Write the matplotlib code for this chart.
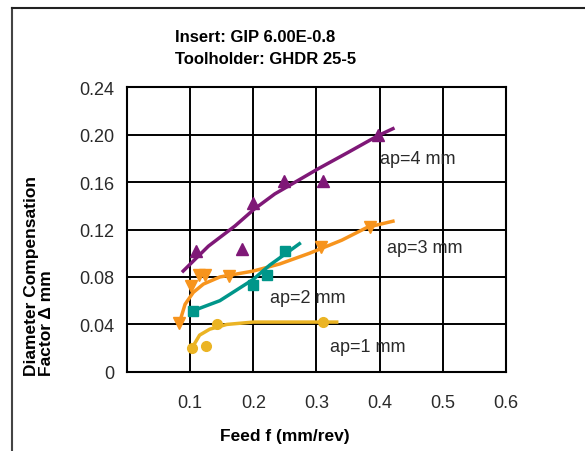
import matplotlib
matplotlib.use("Agg")
import matplotlib.pyplot as plt
from matplotlib.lines import Line2D

plt.rcParams['font.family'] = ['Liberation Sans', 'DejaVu Sans']

# measured points
ap4_x = [0.109, 0.182, 0.200, 0.248, 0.310, 0.398]
ap4_y = [0.102, 0.104, 0.142, 0.161, 0.161, 0.200]
ap3_x = [0.082, 0.101, 0.114, 0.123, 0.161, 0.307, 0.384]
ap3_y = [0.041, 0.072, 0.082, 0.082, 0.081, 0.105, 0.122]
ap2_x = [0.104, 0.200, 0.221, 0.250]
ap2_y = [0.051, 0.073, 0.082, 0.102]
ap1_x = [0.103, 0.125, 0.142, 0.310]
ap1_y = [0.020, 0.022, 0.040, 0.042]

# fitted trend curves
fit4_x = [0.089, 0.129, 0.171, 0.201, 0.234, 0.260, 0.302, 0.350, 0.397, 0.421]
fit4_y = [0.085, 0.106, 0.123, 0.137, 0.150, 0.158, 0.171, 0.185, 0.199, 0.205]
fit3_x = [0.084, 0.092, 0.105, 0.121, 0.147, 0.200, 0.242, 0.289, 0.340, 0.381, 0.421]
fit3_y = [0.043, 0.057, 0.067, 0.074, 0.080, 0.085, 0.091, 0.100, 0.111, 0.122, 0.127]
fit2_x = [0.102, 0.147, 0.200, 0.226, 0.273]
fit2_y = [0.051, 0.060, 0.078, 0.090, 0.108]
fit1_x = [0.105, 0.115, 0.131, 0.158, 0.200, 0.260, 0.332]
fit1_y = [0.022, 0.031, 0.036, 0.040, 0.042, 0.042, 0.042]

x_ticks = [0.1, 0.2, 0.3, 0.4, 0.5, 0.6]
y_ticks = [0, 0.04, 0.08, 0.12, 0.16, 0.20, 0.24]
y_labels = ["0", "0.04", "0.08", "0.12", "0.16", "0.20", "0.24"]

purple = '#7f1877'
orange = '#f7941d'
teal = '#00968a'
gold = '#ebb424'
txt = '#2a2a2a'

fig = plt.figure(figsize=(5.85, 4.52), dpi=100)
ax = fig.add_axes([0.217, 0.175, 0.648, 0.630])

ax.plot(fit4_x, fit4_y, color=purple, lw=2.5, zorder=3)
ax.plot(ap4_x, ap4_y, '^', color=purple, ms=9, zorder=4)
ax.plot(fit3_x, fit3_y, color=orange, lw=2.5, zorder=3)
ax.plot(ap3_x, ap3_y, 'v', color=orange, ms=9, zorder=4)
ax.plot(fit2_x, fit2_y, color=teal, lw=2.5, zorder=3)
ax.plot(ap2_x, ap2_y, 's', color=teal, ms=7, zorder=4)
ax.plot(fit1_x, fit1_y, color=gold, lw=2.5, zorder=3)
ax.plot(ap1_x, ap1_y, 'o', color=gold, ms=7, zorder=4)

ax.text(0.400, 0.180, "ap=4 mm", fontsize=13, color=txt, va='center')
ax.text(0.411, 0.105, "ap=3 mm", fontsize=13, color=txt, va='center')
ax.text(0.226, 0.063, "ap=2 mm", fontsize=13, color=txt, va='center')
ax.text(0.321, 0.021, "ap=1 mm", fontsize=13, color=txt, va='center')

ax.set_xlim(0, 0.6)
ax.set_ylim(0, 0.24)
ax.set_xticks(x_ticks)
ax.set_xticklabels([str(v) for v in x_ticks])
ax.set_yticks(y_ticks)
ax.set_yticklabels(y_labels)
ax.tick_params(length=0, labelsize=13, labelcolor=txt)
ax.tick_params(axis='x', pad=16)
ax.tick_params(axis='y', pad=9)
ax.grid(True, color='black', lw=1.4)
ax.set_axisbelow(True)
for s in ax.spines.values():
    s.set_color('black')
    s.set_linewidth(1.5)

fig.text(175 / 585, 1 - 37 / 452, "Insert: GIP 6.00E-0.8", fontsize=12,
         fontweight='bold', va='center')
fig.text(175 / 585, 1 - 59 / 452, "Toolholder: GHDR 25-5", fontsize=12,
         fontweight='bold', va='center')
fig.text(285 / 585, 1 - 437 / 452, "Feed f (mm/rev)", fontsize=12.5,
         fontweight='bold', ha='center', va='center')
fig.text(39 / 585, 1 - 376 / 452, "Diameter Compensation\nFactor \u0394 mm",
         fontsize=12.5, fontweight='bold', rotation=90, ha='center',
         va='bottom', multialignment='left', linespacing=1.05)

# page frame
fig.add_artist(Line2D([0.0205, 0.0205], [0, 0.98], color='#444444', lw=1.5))
fig.add_artist(Line2D([0.0205, 1], [0.98, 0.98], color='#222222', lw=1.5))

fig.savefig("out.png", dpi=100)
